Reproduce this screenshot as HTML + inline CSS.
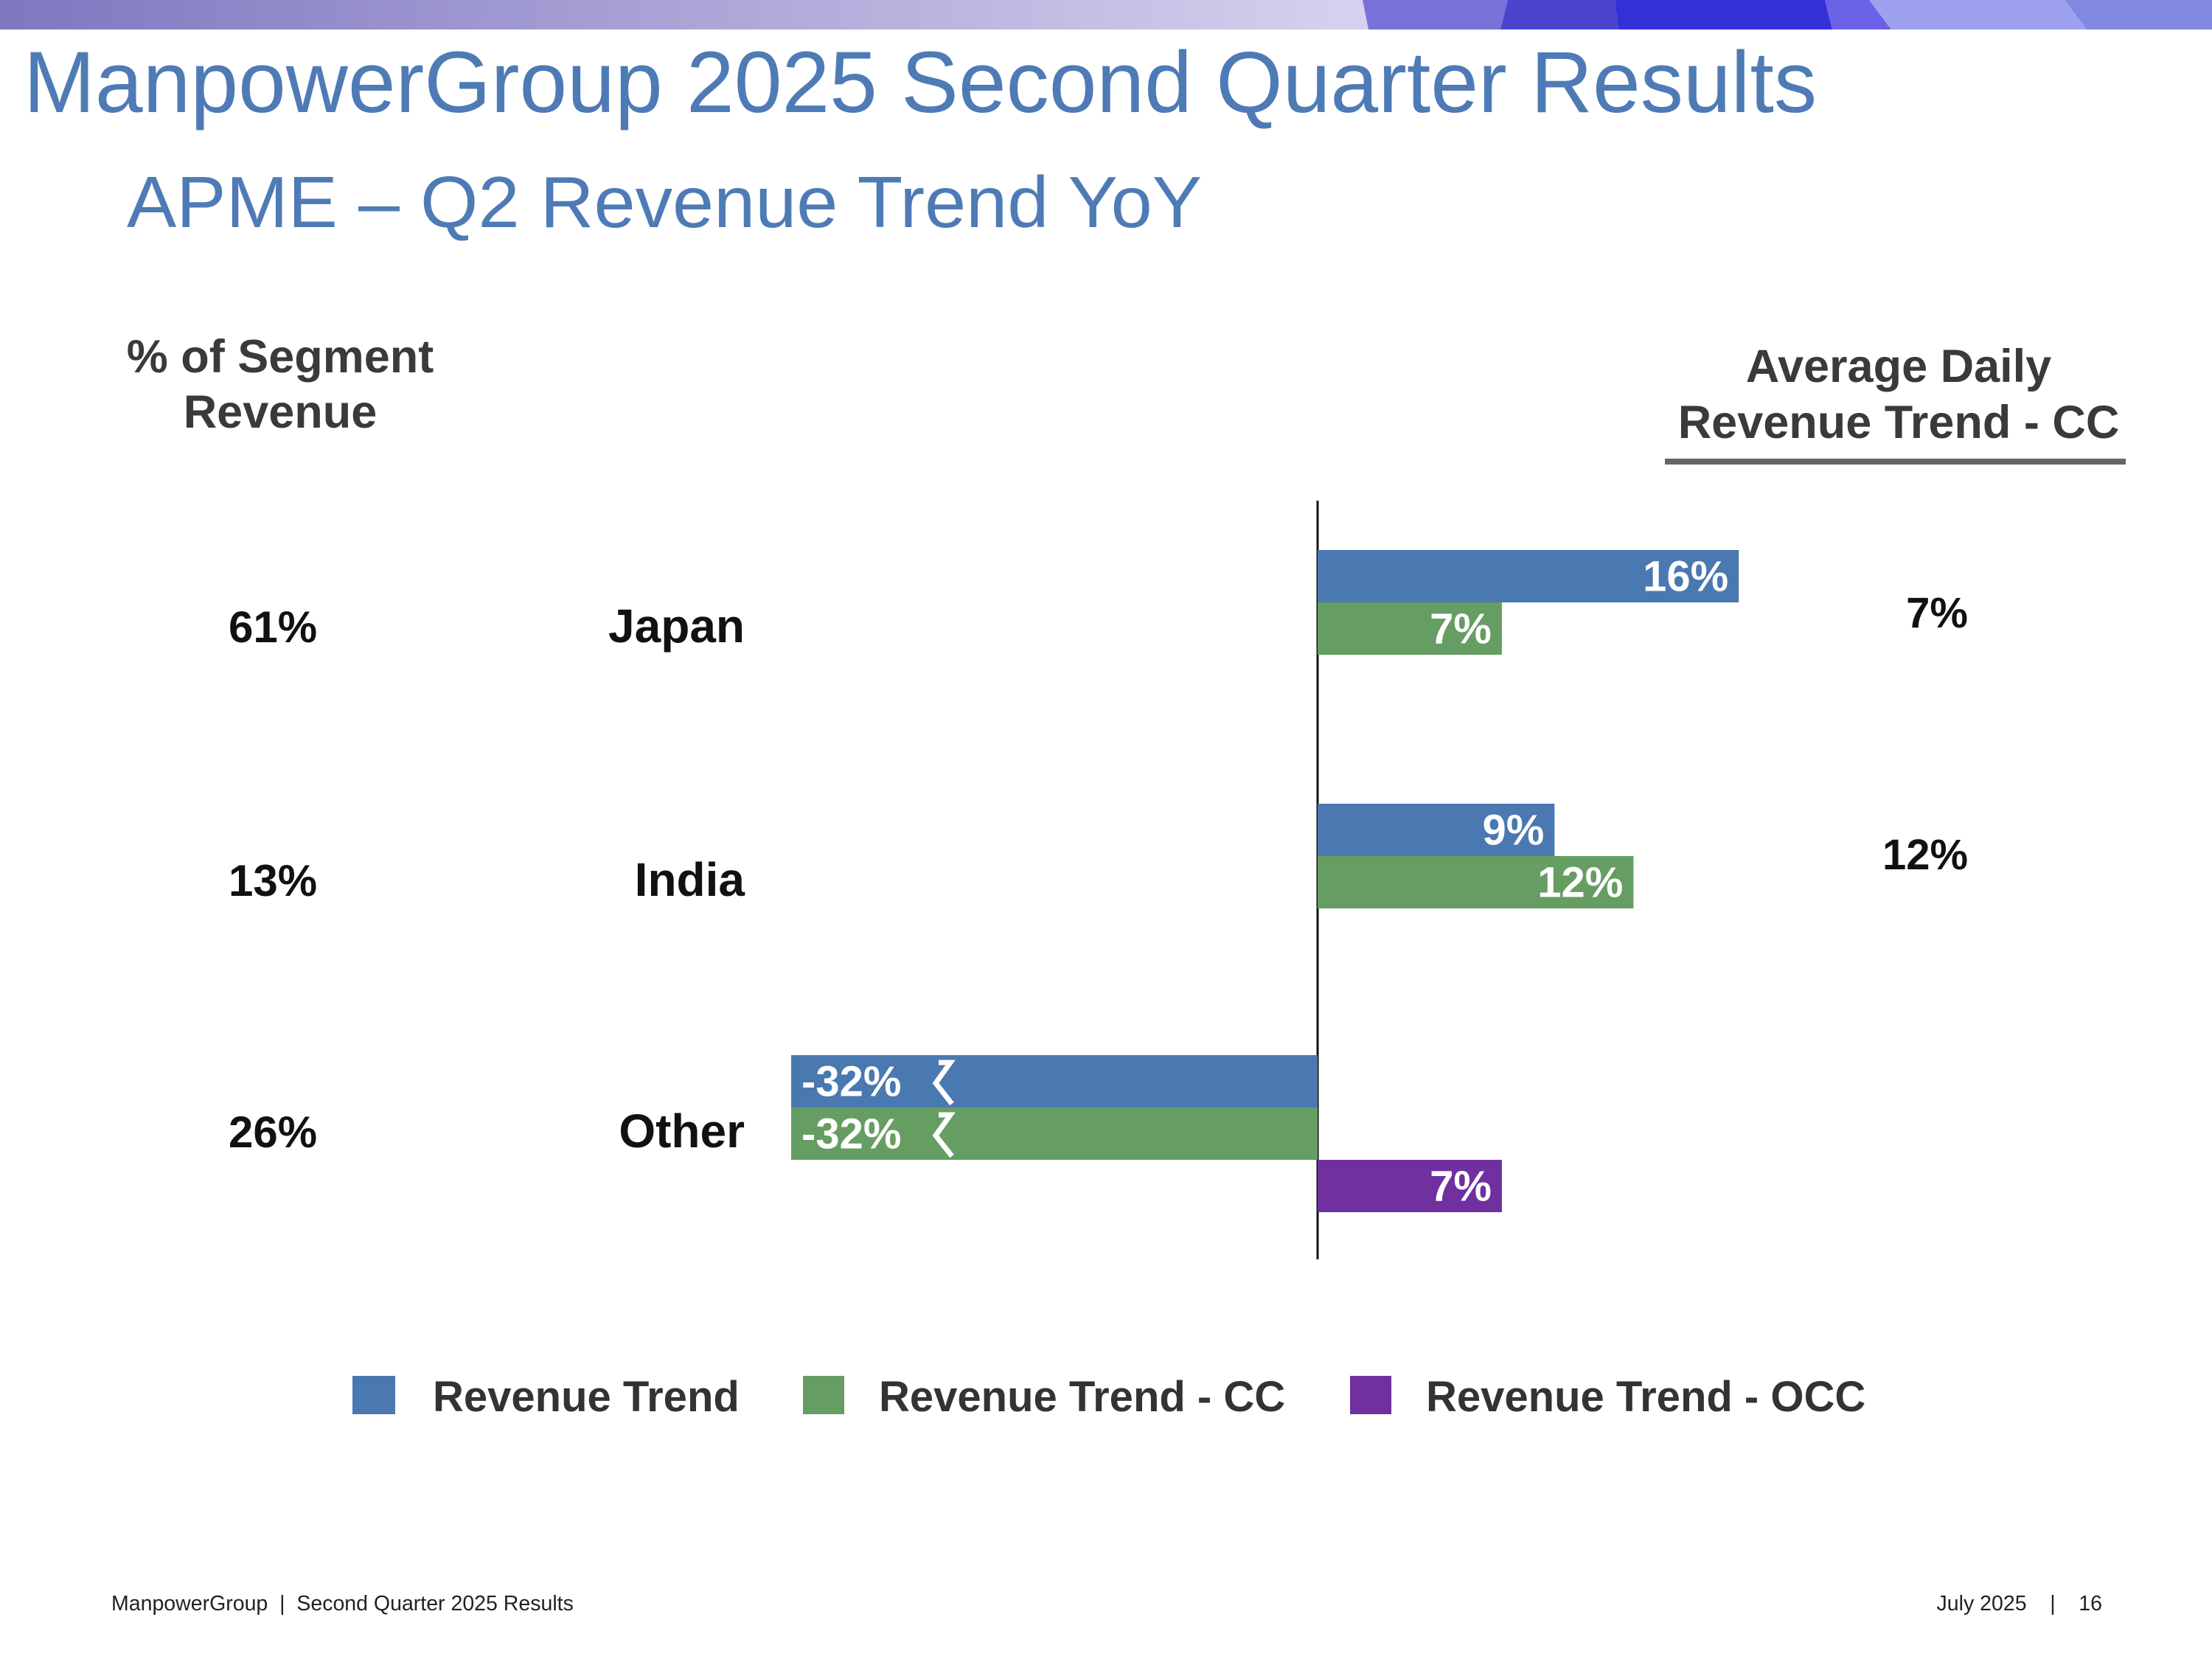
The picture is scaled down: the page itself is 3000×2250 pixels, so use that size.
<!DOCTYPE html>
<html><head><meta charset="utf-8"><style>
html,body{margin:0;padding:0;background:#fff;width:3000px;height:2250px;overflow:hidden}
svg{display:block;font-family:"Liberation Sans",Arial,sans-serif}
.pre{white-space:pre}
</style></head><body>
<svg id="chart" width="3000" height="2250" viewBox="0 0 3000 2250">
<defs><linearGradient id="bg" x1="0" x2="1"><stop offset="0" stop-color="#7f77c0"/><stop offset="1" stop-color="#d6d2ee"/></linearGradient></defs>
<g>
<rect x="0" y="0" width="1860" height="40" fill="url(#bg)"/>
<polygon points="1848,0 2045,0 2035,40 1856,40" fill="#7872d8"/>
<polygon points="2045,0 2190,0 2195,40 2035,40" fill="#4a45cc"/>
<polygon points="2190,0 2475,0 2485,40 2195,40" fill="#3430d8"/>
<polygon points="2475,0 2535,0 2565,40 2485,40" fill="#6a62e6"/>
<polygon points="2535,0 2800,0 2830,40 2565,40" fill="#9ea2ee"/>
<polygon points="2800,0 3000,0 3000,40 2830,40" fill="#8088e0"/>
</g>
<text x="32" y="152" font-size="118" fill="#4e7bb5" textLength="2432" lengthAdjust="spacingAndGlyphs">ManpowerGroup 2025 Second Quarter Results</text>
<text x="172" y="308" font-size="98" fill="#4e7bb5" textLength="1458" lengthAdjust="spacingAndGlyphs">APME – Q2 Revenue Trend YoY</text>
<g font-weight="bold" fill="#3a3a3a" font-size="63" text-anchor="middle">
<text x="380" y="505">% of Segment</text>
<text x="380" y="580">Revenue</text>
<text x="2575" y="518">Average Daily</text>
<text x="2575" y="594">Revenue Trend - CC</text>
</g>
<rect x="2258" y="622" width="625" height="8" fill="#666"/>
<line x1="1787" y1="679" x2="1787" y2="1708" stroke="#111" stroke-width="3"/>
<g id="marks"></g>
<g font-weight="bold" fill="#333" font-size="58">
<rect x="478" y="1866" width="58" height="52" fill="#4a78b0"/>
<text x="587" y="1914">Revenue Trend</text>
<rect x="1089" y="1866" width="56" height="52" fill="#669d62"/>
<text x="1192" y="1914">Revenue Trend - CC</text>
<rect x="1831" y="1866" width="56" height="52" fill="#7030a0"/>
<text x="1934" y="1914">Revenue Trend - OCC</text>
</g>
<g font-size="28.5" fill="#222">
<text class="pre" x="151" y="2184">ManpowerGroup  |  Second Quarter 2025 Results</text>
<text class="pre" x="2851" y="2184" text-anchor="end">July 2025    |    16</text>
</g>
</svg>
<script>
const categories = ["Japan", "India", "Other"];
const segmentShare = ["61%", "13%", "26%"];
const revenueTrend = [16, 9, -32];
const revenueTrendCC = [7, 12, -32];
const revenueTrendOCC = [null, null, 7];
const adrTrendCC = ["7%", "12%", ""];

const NS = "http://www.w3.org/2000/svg";
const marks = document.getElementById("marks");
const zeroX = 1787, pxPer = 35.7, breakAt = -20;
const groupTop = [746, 1090, 1431], barH = 71;
function xScale(v){ return zeroX + Math.max(v, breakAt) * pxPer; }
function mk(tag, attrs){ const e = document.createElementNS(NS, tag); for (const k in attrs) e.setAttribute(k, attrs[k]); marks.appendChild(e); return e; }
const series = [[revenueTrend, "#4a78b0", "revenue-trend"], [revenueTrendCC, "#669d62", "revenue-trend-cc"], [revenueTrendOCC, "#7030a0", "revenue-trend-occ"]];
categories.forEach((c, i) => {
  const mid = groupTop[i] + barH;
  let t = mk("text", {x: 370, y: mid + 54, "font-size": 60, "font-weight": "bold", "text-anchor": "middle", fill: "#111"});
  t.textContent = segmentShare[i];
  
  
  t = mk("text", {x: 1010, y: mid + 54, "font-size": 64, "font-weight": "bold", "text-anchor": "end", fill: "#111"});
  t.textContent = c;
  
  
  if (adrTrendCC[i]) {
    t = mk("text", {x: i === 0 ? 2627 : 2611, y: mid + (i === 0 ? 34 : 18), "font-size": 58, "font-weight": "bold", "text-anchor": "middle", fill: "#111"});
    t.textContent = adrTrendCC[i];
    
    
  }
  let slot = 0;
  series.forEach(([arr, col, nm]) => {
    const v = arr[i];
    if (v === null) return;
    const y = groupTop[i] + slot * barH; slot++;
    const x1 = xScale(v), x = Math.min(x1, zeroX), w = Math.abs(x1 - zeroX);
    const r = mk("rect", {x: x, y: y, width: w, height: barH, fill: col});
    
    
    const lab = mk("text", {y: y + barH/2 + 20, "font-size": 58, "font-weight": "bold", fill: "#fff"});
    lab.textContent = v + "%";
    if (v >= 0) { lab.setAttribute("x", x1 - 14); lab.setAttribute("text-anchor", "end"); }
    else { lab.setAttribute("x", x + 14); }
    
    
    if (v < breakAt) {
      const zx = x + 196, zy = y + 10;
      const z = mk("polyline", {points: `${zx+4},${zy} ${zx+20},${zy} ${zx},${zy+28} ${zx+22},${zy+56}`, fill: "none", stroke: "#fff", "stroke-width": 7});
      
      
    }
  });
});
</script>
</body></html>
